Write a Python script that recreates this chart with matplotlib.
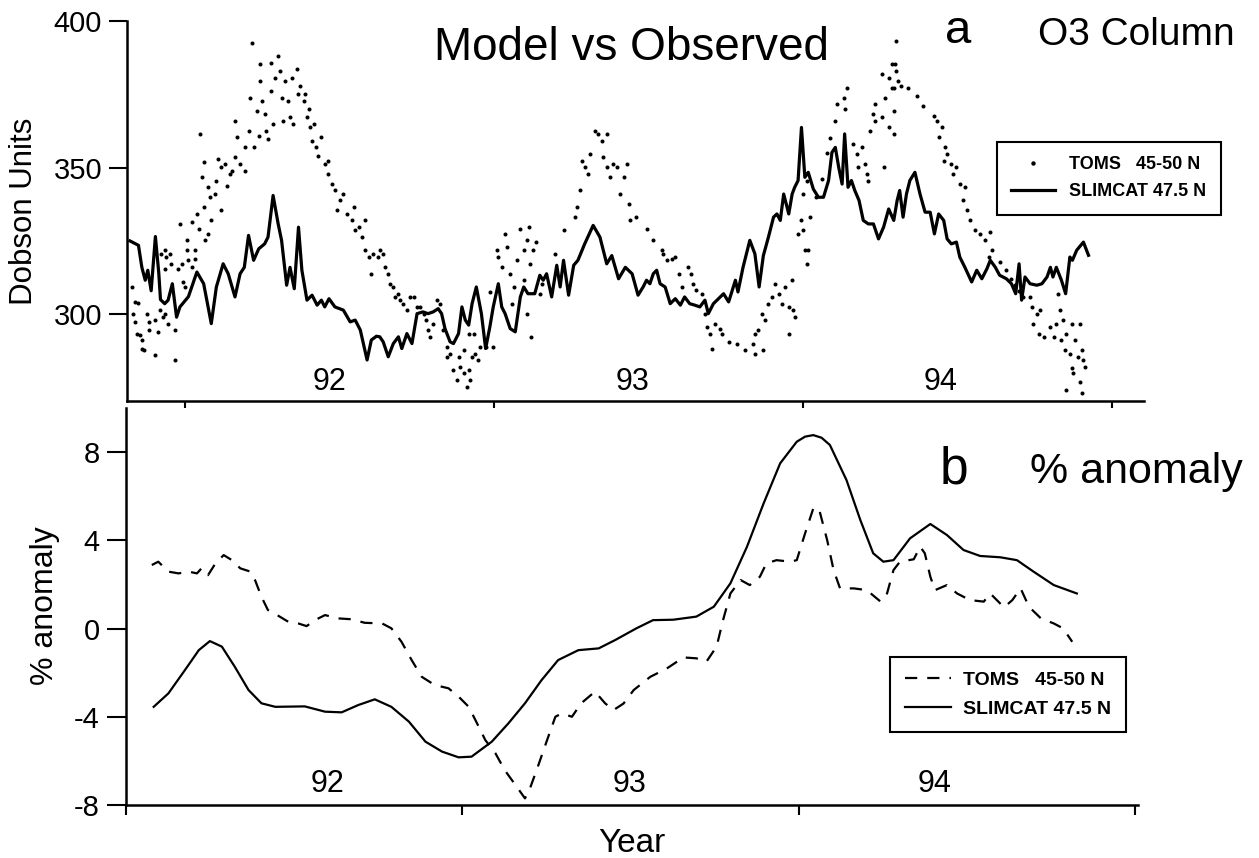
import numpy as np
import matplotlib
matplotlib.use("Agg")
import matplotlib.pyplot as plt

plt.rcParams["font.family"] = ["Liberation Sans", "DejaVu Sans"]
plt.rcParams["axes.unicode_minus"] = False

# x values are days since 1 Jan 1992
year_ticks = [0, 365, 730, 1095]
year_labels = ["92", "93", "94"]

# (a) daily O3 column, Dobson units
slimcat_col = [
    (-65, 325.0), (-55, 323.5), (-51, 316.0), (-47, 311.6), (-44, 315.0), (-40, 308.0),
    (-35, 326.5), (-31, 314.0), (-29, 305.0), (-24, 303.6), (-20, 304.8), (-15, 310.4),
    (-10, 299.0), (-6, 302.5), (4, 306.0), (14, 314.4), (22, 310.4), (31, 296.8),
    (37, 309.3), (45, 317.2), (51, 313.8), (59, 305.9), (65, 313.8), (70, 316.0),
    (75, 326.9), (81, 318.4), (87, 322.3), (94, 324.0), (98, 326.3), (104, 340.5),
    (110, 330.8), (114, 325.2), (120, 309.9), (124, 316.0), (129, 308.7), (134, 329.7),
    (138, 315.0), (144, 304.8), (150, 306.5), (156, 303.1), (161, 304.8), (165, 302.5),
    (170, 305.3), (177, 302.5), (187, 301.4), (195, 297.4), (201, 298.0), (207, 294.6),
    (215, 284.4), (220, 291.2), (226, 292.5), (230, 292.3), (234, 290.6), (240, 285.5),
    (246, 290.0), (252, 292.3), (256, 288.3), (262, 293.4), (268, 290.0), (274, 300.2),
    (281, 300.8), (287, 300.2), (293, 300.8), (299, 301.9), (303, 300.2), (307, 295.1),
    (313, 290.6), (317, 290.0), (323, 293.4), (327, 302.5), (331, 298.0), (335, 296.3),
    (339, 303.6), (344, 309.3), (350, 300.2), (355, 288.3), (360, 295.7), (364, 302.5),
    (370, 310.4), (374, 302.5), (378, 300.2), (384, 295.1), (390, 294.0), (396, 305.9),
    (400, 309.3), (405, 307.0), (413, 307.0), (419, 313.3), (423, 311.6), (427, 313.8),
    (433, 305.9), (439, 316.7), (443, 309.3), (447, 318.4), (453, 306.5), (459, 316.7),
    (464, 318.4), (472, 324.0), (482, 330.3), (490, 326.3), (498, 317.2), (504, 320.0),
    (512, 312.1), (520, 316.0), (528, 313.8), (535, 306.5), (541, 309.3), (545, 311.6),
    (549, 310.4), (553, 313.8), (557, 315.0), (561, 310.4), (567, 309.3), (573, 303.6),
    (579, 305.3), (585, 303.1), (590, 305.9), (596, 303.6), (602, 303.1), (608, 302.5),
    (614, 304.8), (618, 300.2), (624, 303.6), (630, 305.3), (636, 307.0), (642, 304.2),
    (650, 311.6), (653, 307.6), (659, 316.0), (667, 325.2), (673, 320.6), (678, 309.3),
    (683, 320.0), (689, 326.3), (695, 333.1), (699, 334.2), (703, 332.0), (707, 341.0),
    (713, 334.2), (717, 341.0), (720, 343.3), (724, 345.6), (728, 363.7), (732, 346.7),
    (736, 348.4), (742, 342.7), (748, 339.9), (754, 339.9), (760, 345.6), (764, 355.2),
    (768, 356.9), (772, 350.1), (776, 344.4), (779, 361.5), (783, 343.3), (787, 345.6),
    (791, 342.2), (796, 338.8), (801, 332.0), (807, 330.8), (813, 330.8), (819, 325.7),
    (825, 329.7), (831, 335.9), (837, 332.0), (841, 338.8), (844, 342.2), (848, 333.1),
    (852, 341.0), (856, 345.6), (862, 348.4), (868, 341.0), (874, 334.8), (880, 334.8),
    (885, 327.4), (890, 334.2), (896, 332.0), (900, 325.7), (905, 324.0), (911, 324.6),
    (915, 319.5), (921, 316.0), (929, 311.0), (935, 315.0), (941, 312.1), (947, 315.5),
    (951, 318.4), (957, 316.0), (962, 313.3), (970, 312.1), (976, 310.4), (981, 307.0),
    (985, 317.2), (988, 304.8), (992, 312.7), (998, 310.4), (1006, 309.9), (1012, 310.4),
    (1018, 312.7), (1022, 316.0), (1025, 312.7), (1029, 316.0), (1035, 311.6), (1040, 307.0),
    (1045, 319.5), (1048, 318.4), (1053, 321.8), (1061, 324.6), (1067, 320.1),
]

toms_col = [
    (-63, 309.3), (-59, 304.2), (-55, 303.9), (-61, 300.2), (-59, 297.4), (-57, 293.4),
    (-53, 292.9), (-51, 291.2), (-51, 288.3), (-49, 287.8), (-45, 300.2), (-43, 297.4),
    (-43, 294.6), (-36, 286.0), (-36, 298.0), (-32, 294.0), (-30, 301.4), (-26, 299.0),
    (-24, 300.2), (-20, 296.8), (-12, 294.6), (-12, 284.4), (-28, 320.6), (-24, 321.8),
    (-22, 319.5), (-18, 320.6), (-16, 317.2), (-24, 315.5), (-8, 315.5), (-2, 311.0),
    (0, 309.3), (-4, 317.2), (2, 321.8), (4, 318.4), (8, 316.0), (12, 318.9), (2, 325.2),
    (12, 321.8), (-6, 330.8), (8, 331.4), (14, 334.2), (16, 329.1), (24, 325.2), (27, 327.4),
    (31, 332.0), (22, 336.5), (20, 346.7), (18, 361.5), (22, 351.8), (27, 343.3), (29, 339.9),
    (35, 341.0), (37, 345.6), (39, 352.9), (43, 335.4), (43, 350.1), (47, 351.2), (49, 343.9),
    (53, 347.8), (55, 349.0), (59, 353.5), (59, 366.0), (61, 360.3), (65, 351.2), (71, 349.0),
    (71, 356.9), (75, 362.6), (77, 373.9), (81, 356.9), (85, 369.4), (87, 360.9), (89, 379.6),
    (91, 372.8), (89, 385.3), (95, 368.3), (96, 362.6), (98, 359.8), (102, 385.8), (102, 376.2),
    (104, 364.9), (106, 380.7), (110, 388.1), (112, 383.0), (114, 373.9), (116, 366.0),
    (118, 379.6), (122, 372.8), (124, 367.1), (126, 380.7), (128, 364.9), (132, 383.6),
    (134, 375.0), (136, 377.9), (140, 372.8), (142, 375.0), (144, 367.1), (146, 370.0),
    (148, 363.7), (150, 359.2), (152, 364.9), (155, 356.9), (157, 354.1), (161, 360.3),
    (165, 351.2), (169, 352.4), (169, 347.8), (173, 344.4), (177, 342.2), (179, 335.4),
    (183, 338.8), (187, 341.0), (191, 334.2), (197, 332.0), (199, 336.5), (201, 328.6),
    (205, 329.7), (209, 326.3), (213, 332.0), (213, 321.8), (217, 319.5), (220, 313.8),
    (222, 320.6), (228, 319.5), (79, 392.6),
    (230, 321.8), (234, 320.6), (236, 316.0), (240, 313.8), (242, 310.4), (246, 309.3),
    (248, 305.9), (252, 307.0), (254, 304.8), (258, 303.6), (262, 301.4), (266, 305.9),
    (270, 305.9), (274, 302.5), (278, 302.5), (282, 300.2), (285, 298.0), (287, 294.6),
    (289, 292.3), (293, 296.8), (297, 304.8), (301, 303.6), (305, 294.6), (309, 285.5),
    (309, 288.9), (313, 286.6), (317, 281.0), (321, 277.6), (325, 282.1), (329, 279.8),
    (333, 275.3), (335, 281.0), (337, 277.6), (339, 285.5), (343, 286.6), (346, 284.4),
    (348, 288.9), (341, 293.4), (335, 293.4), (329, 287.8), (323, 285.5), (356, 288.9),
    (360, 307.6), (364, 288.9), (368, 321.8), (370, 319.5), (374, 316.0), (378, 327.4),
    (380, 322.9), (384, 313.8), (386, 303.6), (392, 318.4), (396, 329.1), (400, 321.8),
    (404, 325.2), (406, 329.7), (407, 317.2), (409, 292.3), (411, 321.8), (415, 324.6),
    (419, 307.0), (421, 310.4), (404, 300.2), (400, 311.6), (388, 309.3), (437, 320.6),
    (447, 328.6), (461, 333.1), (463, 336.5), (467, 342.2), (469, 352.4), (472, 350.1),
    (476, 347.8), (478, 354.6), (484, 362.6), (488, 361.5), (492, 359.2), (494, 353.5),
    (498, 361.5), (498, 350.1), (502, 346.7), (506, 351.2), (510, 350.1), (514, 341.0),
    (518, 346.7), (522, 351.2), (524, 337.6), (526, 332.0), (533, 333.1),
    (545, 329.1), (553, 325.2), (563, 321.8), (565, 320.6), (569, 318.4), (575, 318.9),
    (579, 319.5), (583, 313.8), (587, 309.3), (594, 316.0), (598, 313.8), (600, 310.4),
    (604, 308.2), (610, 307.0), (614, 300.2), (616, 295.7), (620, 293.4), (626, 296.8),
    (632, 295.1), (634, 293.4), (622, 288.3), (642, 290.6), (652, 290.0), (661, 287.8),
    (671, 290.0), (673, 286.6), (683, 287.8), (673, 293.4), (677, 294.6), (681, 300.2),
    (685, 298.0), (689, 303.6), (693, 305.9), (697, 310.4), (701, 307.0), (705, 303.6),
    (709, 309.3), (713, 302.5), (717, 311.6), (720, 299.0), (713, 293.4), (718, 301.4),
    (724, 327.4), (728, 332.0), (730, 328.6), (732, 321.8), (734, 317.2), (736, 321.8),
    (738, 333.1), (730, 341.0), (734, 345.6), (745, 340.0), (752, 346.0), (758, 355.0),
    (762, 360.0), (768, 366.0), (770, 371.7), (778, 373.9), (780, 370.0), (782, 377.3),
    (789, 358.0), (793, 354.6), (795, 350.1), (799, 356.9), (803, 351.2), (805, 347.8),
    (807, 345.6), (809, 362.6), (813, 368.3), (815, 366.0), (823, 381.9), (827, 373.9),
    (831, 380.7), (835, 385.3), (825, 350.1), (837, 377.3), (815, 371.7), (823, 367.1),
    (831, 363.7), (840, 393.2), (839, 385.3), (840, 383.0), (842, 379.6), (835, 377.3),
    (846, 377.9), (854, 377.3), (837, 369.4), (837, 361.5), (864, 374.5), (872, 371.1),
    (884, 367.7), (888, 366.0), (894, 363.7), (890, 360.3), (898, 356.9), (900, 354.6),
    (896, 352.4), (905, 351.2), (911, 350.1), (907, 347.8), (915, 344.4), (921, 343.3),
    (919, 338.8), (923, 335.4), (927, 332.0), (933, 328.6), (939, 327.4), (945, 325.2),
    (951, 328.0), (953, 321.8), (949, 319.5), (963, 317.8), (970, 315.0), (975, 312.0),
    (980, 310.0), (985, 308.0), (990, 306.0), (998, 305.9), (1000, 302.5), (1006, 300.2),
    (1010, 301.4), (1002, 296.8), (1008, 293.4), (1014, 292.3), (1022, 295.7), (1026, 292.3),
    (1029, 296.8), (1033, 301.4), (1037, 298.0), (1041, 293.4), (1047, 296.8), (1057, 296.8),
    (1031, 307.0), (1035, 291.2), (1039, 287.8), (1045, 286.6), (1051, 291.2), (1055, 285.5),
    (1059, 287.8), (1061, 284.4), (1063, 282.1), (1047, 281.5), (1049, 279.8), (1057, 277.0),
    (1041, 274.1), (1059, 273.0),
]

# (b) percentage anomaly
slimcat_anom = [
    (30, -3.55), (46, -2.94), (64, -1.88), (79, -0.98), (91, -0.57), (104, -0.82),
    (118, -1.73), (133, -2.79), (147, -3.39), (162, -3.55), (194, -3.53), (216, -3.77),
    (234, -3.80), (252, -3.47), (270, -3.21), (288, -3.55), (307, -4.22), (325, -5.13),
    (343, -5.58), (361, -5.84), (375, -5.81), (397, -5.13), (415, -4.30), (433, -3.39),
    (451, -2.34), (469, -1.43), (491, -0.98), (513, -0.90), (531, -0.52), (554, 0.01),
    (572, 0.38), (594, 0.40), (619, 0.54), (638, 0.99), (656, 2.05), (674, 3.71),
    (692, 5.67), (710, 7.49), (728, 8.47), (737, 8.70), (746, 8.77), (755, 8.65),
    (764, 8.32), (782, 6.73), (797, 4.92), (811, 3.41), (822, 3.03), (833, 3.10),
    (851, 4.09), (873, 4.74), (891, 4.24), (909, 3.56), (927, 3.29), (949, 3.23),
    (967, 3.10), (985, 2.58), (1007, 1.97), (1032, 1.59),
]

toms_anom = [
    (28, 2.88), (35, 3.03), (46, 2.58), (57, 2.50), (68, 2.58), (77, 2.50), (82, 2.73),
    (89, 2.42), (97, 2.95), (106, 3.33), (115, 3.10), (124, 2.73), (135, 2.58), (140, 2.20),
    (147, 1.44), (154, 0.84), (164, 0.61), (176, 0.31), (187, 0.23), (196, 0.11), (205, 0.38),
    (216, 0.61), (230, 0.46), (245, 0.42), (259, 0.26), (278, 0.23), (288, 0.01), (299, -0.60),
    (310, -1.43), (321, -2.19), (335, -2.56), (350, -2.71), (361, -3.09), (372, -3.55),
    (381, -4.30), (390, -5.06), (401, -5.66), (411, -6.42), (424, -7.17), (433, -7.70),
    (438, -7.30), (447, -6.26), (457, -5.06), (466, -4.00), (473, -3.85), (484, -4.00),
    (494, -3.39), (509, -2.86), (520, -3.39), (529, -3.70), (540, -3.40), (551, -2.79),
    (569, -2.19), (587, -1.81), (605, -1.31), (619, -1.35), (630, -1.50), (641, -0.82),
    (648, 0.38), (656, 1.59), (667, 2.20), (677, 1.97), (688, 2.35), (695, 2.95), (706, 3.10),
    (721, 3.03), (728, 3.10), (737, 4.31), (746, 5.45), (752, 5.45), (761, 4.01), (768, 2.65),
    (775, 1.82), (790, 1.82), (804, 1.74), (819, 1.22), (826, 1.59), (833, 2.65), (840, 3.03),
    (855, 3.14), (862, 3.71), (867, 3.41), (873, 2.35), (878, 1.74), (891, 1.97), (902, 1.59),
    (916, 1.29), (931, 1.22), (938, 1.59), (953, 0.96), (962, 1.29), (971, 1.82), (980, 0.99),
    (993, 0.46), (1007, 0.23), (1017, 0.01), (1027, -0.60),
]

sc_day, sc_du = np.array(slimcat_col).T
tm_day, tm_du = np.array(toms_col).T
sa_day, sa_val = np.array(slimcat_anom).T
ta_day, ta_val = np.array(toms_anom).T

fig = plt.figure(figsize=(12.59, 8.58), dpi=100)
ax1 = fig.add_axes([0.1009, 0.5326, 0.8078, 0.4429])
ax2 = fig.add_axes([0.1001, 0.0618, 0.8038, 0.4627])

for ax in (ax1, ax2):
    for side in ("top", "right"):
        ax.spines[side].set_visible(False)
    for side in ("left", "bottom"):
        ax.spines[side].set_linewidth(1.8)
    ax.set_xticks(year_ticks)
    ax.set_xticklabels([])
    ax.tick_params(axis="x", direction="out", length=7, width=1.5)
    ax.tick_params(axis="y", direction="out", length=13, width=1.5,
                   labelsize=21, pad=5)

# panel a
ax1.plot(tm_day, tm_du, ls="none", marker="o", ms=2.9, mew=0, color="black",
         label="TOMS   45-50 N")
ax1.plot(sc_day, sc_du, color="black", lw=2.3, label="SLIMCAT 47.5 N")
ax1.set_xlim(-68.5, 1132.6)
ax1.set_ylim(270.4, 400)
ax1.set_yticks([300, 350, 400])
for xpos, lab in zip([171, 529, 892], year_labels):
    ax1.text(xpos, 276.9, lab, fontsize=22, ha="center", va="center")
ax1.legend(loc="upper left", bbox_to_anchor=(997 / 1259, 1 - 142 / 858),
           bbox_transform=fig.transFigure, borderaxespad=0, numpoints=1,
           markerscale=1.1, prop={"weight": "bold", "size": 13},
           handlelength=2.4, handletextpad=0.8, labelspacing=0.55,
           borderpad=0.8, fancybox=False, framealpha=1, edgecolor="black")
ax1.get_legend().get_frame().set_linewidth(1.5)

# panel b
ax2.plot(ta_day, ta_val, color="black", lw=1.6, ls=(0, (5.5, 4.5)),
         label="TOMS   45-50 N")
ax2.plot(sa_day, sa_val, color="black", lw=1.6, label="SLIMCAT 47.5 N")
ax2.set_xlim(0, 1098.4)
ax2.set_ylim(-8, 10)
ax2.set_yticks([-8, -4, 0, 4, 8])
ax2.tick_params(axis="y", length=14)
for xpos, lab in zip([219, 547, 878], year_labels):
    ax2.text(xpos, -7.05, lab, fontsize=22, ha="center", va="center")
ax2.legend(loc="upper left", bbox_to_anchor=(890 / 1259, 1 - 657 / 858),
           bbox_transform=fig.transFigure, borderaxespad=0,
           prop={"weight": "bold", "size": 14},
           handlelength=2.4, handletextpad=0.6, labelspacing=0.55,
           borderpad=0.75, fancybox=False, framealpha=1, edgecolor="black")
ax2.get_legend().get_frame().set_linewidth(1.5)

# titles and axis labels
fig.text(632 / 1259, 1 - 60 / 858, "Model vs Observed", fontsize=33,
         ha="center", va="baseline")
fig.text(945 / 1259, 1 - 43 / 858, "a", fontsize=34, ha="left", va="baseline")
fig.text(1038 / 1259, 1 - 45 / 858, "O3 Column", fontsize=28, ha="left", va="baseline")
fig.text(940 / 1259, 1 - 483 / 858, "b", fontsize=37, ha="left", va="baseline")
fig.text(1030 / 1259, 1 - 483 / 858, "% anomaly", fontsize=31, ha="left", va="baseline")
fig.text(24 / 1259, 1 - 211 / 858, "Dobson Units", fontsize=22.5, rotation=90,
         ha="center", va="center")
fig.text(45 / 1259, 1 - 606 / 858, "% anomaly", fontsize=23, rotation=90,
         ha="center", va="center")
fig.text(632 / 1259, 1 - 843 / 858, "Year", fontsize=24, ha="center", va="center")

fig.savefig("out.png", dpi=100)
